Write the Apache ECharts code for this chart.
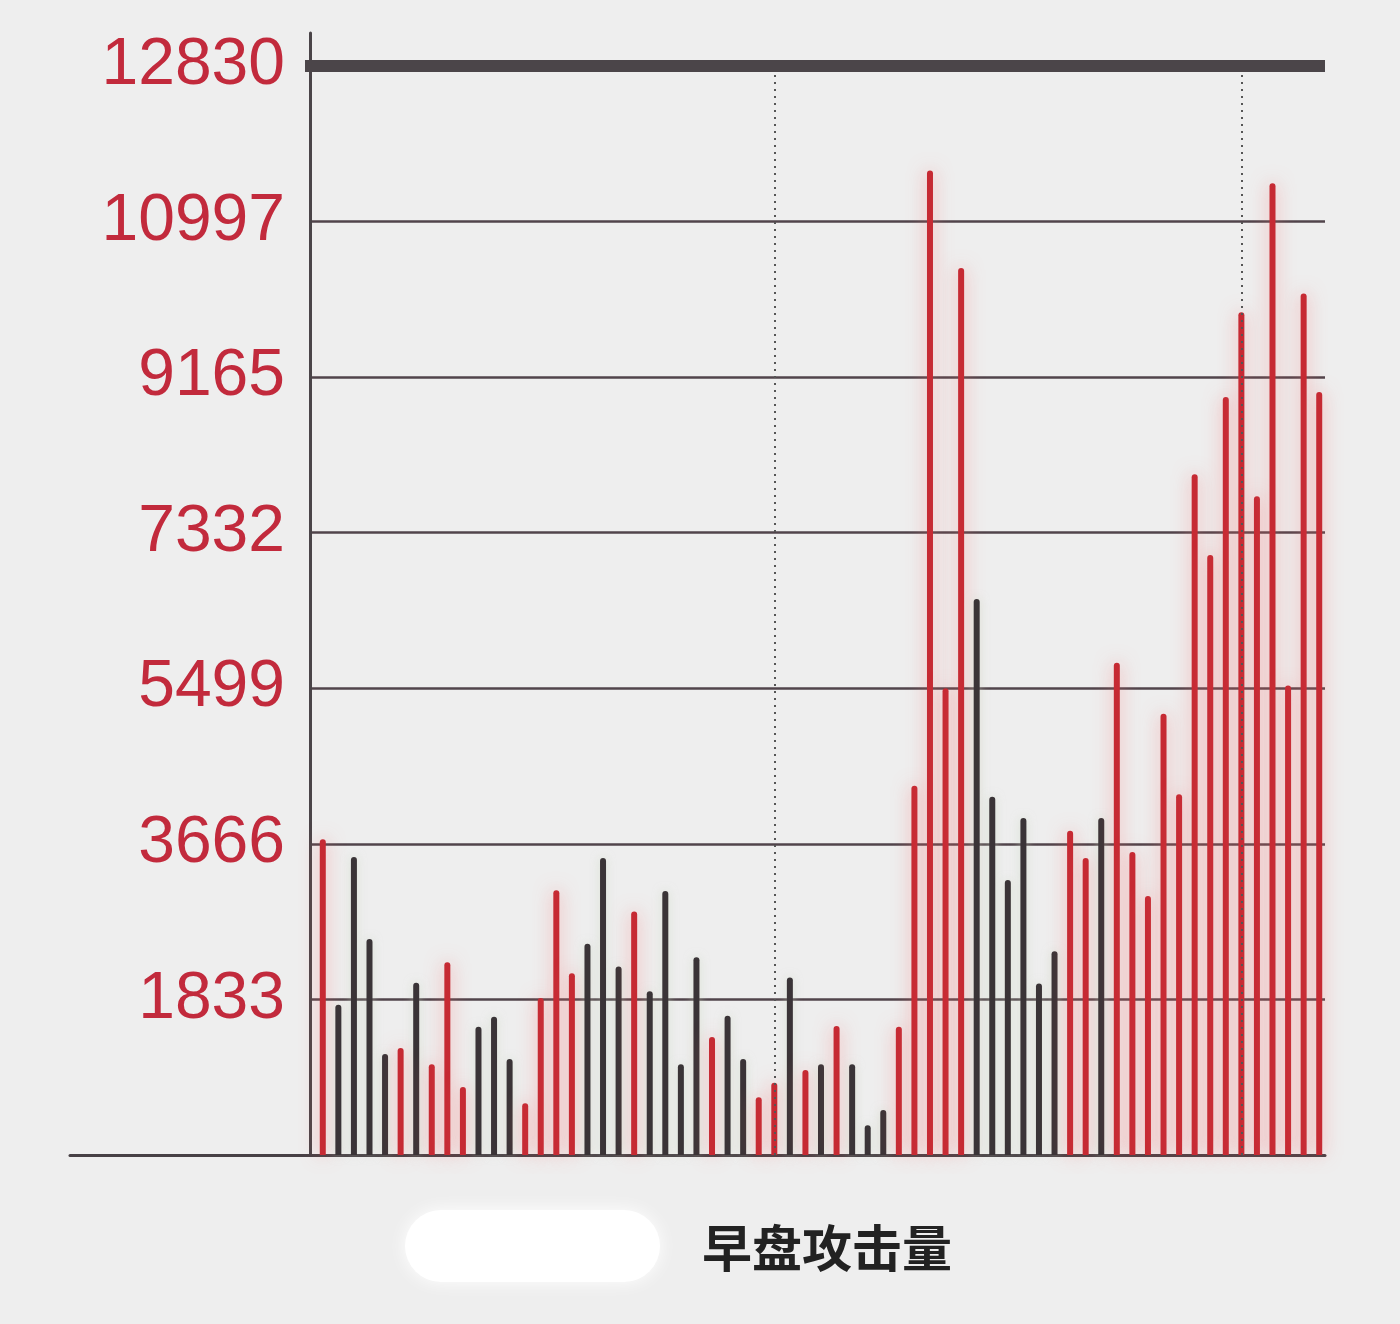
<!DOCTYPE html>
<html>
<head>
<meta charset="utf-8">
<script src="https://cdn.jsdelivr.net/npm/echarts@6/dist/echarts.min.js"></script>
<style>
html,body{margin:0;padding:0;background:#eeeeee;}
#chart{width:1400px;height:1324px;}
</style>
</head>
<body>
<div id="chart"></div>
<script>
// ---- data ----
const categories = Array.from({length: 65}, (_, i) => String(i + 1));
const volumes = [
  3720,1770,3510,2545,1190,1260,2030,1070,2270,800,
  1510,1630,1130,610,1850,3120,2140,2490,3500,2220,
  2870,1930,3110,1070,2330,1390,1640,1130,680,850,
  2090,1000,1070,1520,1070,350,530,1510,4350,11600,
  5500,10450,6550,4220,3240,3970,2020,2400,3820,3500,
  3970,5800,3570,3050,5200,4250,8020,7070,8930,9930,
  7760,11450,5530,10150,8990
];
// 1 = up (red), -1 = down (dark)
const direction = [
  1,-1,-1,-1,-1,1,-1,1,1,1,
  -1,-1,-1,1,1,1,1,-1,-1,-1,
  1,-1,-1,-1,-1,1,-1,-1,1,1,
  -1,1,-1,1,-1,-1,-1,1,1,1,
  1,1,-1,-1,-1,-1,-1,-1,1,1,
  -1,1,1,1,1,1,1,1,1,1,
  1,1,1,1,1
];
const tickLabels = ['', '1833', '3666', '5499', '7332', '9165', '10997', '12830'];
const yMax = 12830;
const markerCats = ['30', '60'];
const title = '早盘攻击量';

const UP = '#c62a33', DOWN = '#3a3437';
const chart = echarts.init(document.getElementById('chart'), null, {renderer: 'canvas'});
const interval = yMax / 7;

const barData = volumes.map((v, i) => ({
  value: v,
  itemStyle: direction[i] > 0
    ? {color: UP, shadowColor: 'rgba(250,110,110,0.55)', shadowBlur: 18}
    : {color: DOWN, shadowColor: 'rgba(200,215,190,0.55)', shadowBlur: 10}
}));

const hiddenValueAxis = (gi) => ({gridIndex: gi, type: 'value', min: 0, max: 1, show: false});

chart.setOption({
  backgroundColor: '#eeeeee',
  animation: false,
  title: {
    text: title, left: 697, top: 1218,
    textStyle: {fontFamily: 'Noto Sans CJK SC', fontSize: 50, fontWeight: 'bold', color: '#222'}
  },
  grid: [
    {left: 315, right: 73, top: 66, bottom: 169},   // bars + labels
    {left: 70, right: 75, top: 33, bottom: 169},    // x axis line
    {left: 310, right: 75, top: 66, bottom: 169},   // gridlines
    {left: 310, right: 75, top: 33, bottom: 169}    // y axis line
  ],
  xAxis: [
    {gridIndex: 0, type: 'category', data: categories, boundaryGap: true,
     axisLine: {show: false}, axisTick: {show: false}, axisLabel: {show: false}},
    {gridIndex: 1, type: 'value', min: 0, max: 1,
     axisLine: {show: true, onZero: false, lineStyle: {color: '#474045', width: 3}},
     axisTick: {show: false}, axisLabel: {show: false}, splitLine: {show: false}},
    hiddenValueAxis(2),
    hiddenValueAxis(3)
  ],
  yAxis: [
    {gridIndex: 0, type: 'value', min: 0, max: yMax, interval: interval,
     axisLine: {show: false}, axisTick: {show: false},
     axisLabel: {
       margin: 30,
       fontFamily: 'Liberation Sans', fontSize: 66, color: '#c22a3c',
       formatter: v => tickLabels[Math.round(v / interval)] || ''
     },
     splitLine: {show: false}},
    hiddenValueAxis(1),
    {gridIndex: 2, type: 'value', min: 0, max: yMax, interval: interval,
     axisLine: {show: false}, axisTick: {show: false}, axisLabel: {show: false},
     splitLine: {show: true, lineStyle: {color: '#51444b', width: 2.5}}},
    {gridIndex: 3, type: 'value', min: 0, max: 1,
     axisLine: {show: true, lineStyle: {color: '#4a4448', width: 3}},
     axisTick: {show: false}, axisLabel: {show: false}, splitLine: {show: false}}
  ],
  series: [{
    type: 'bar',
    xAxisIndex: 0, yAxisIndex: 0,
    data: barData,
    barWidth: 6,
    itemStyle: {borderRadius: [3, 3, 0, 0]},
    markLine: {
      silent: true, symbol: 'none', label: {show: false},
      data: [
        {xAxis: markerCats[0], lineStyle: {type: [2, 5], color: '#555', width: 2}},
        {xAxis: markerCats[1], lineStyle: {type: [2, 5], color: '#555', width: 2}}
      ]
    }
  }, {
    type: 'line',
    xAxisIndex: 2, yAxisIndex: 2,
    data: [[0, 0]], showSymbol: false, lineStyle: {opacity: 0},
    markLine: {
      silent: true, symbol: 'none', label: {show: false},
      data: [{yAxis: yMax, x: 305, lineStyle: {type: 'solid', color: '#4b4549', width: 12}}]
    }
  }],
  graphic: [{
    type: 'rect', left: 405, top: 1210,
    shape: {width: 255, height: 72, r: 36},
    style: {fill: '#ffffff', shadowColor: '#ffffff', shadowBlur: 18}
  }]
});
</script>
</body>
</html>
